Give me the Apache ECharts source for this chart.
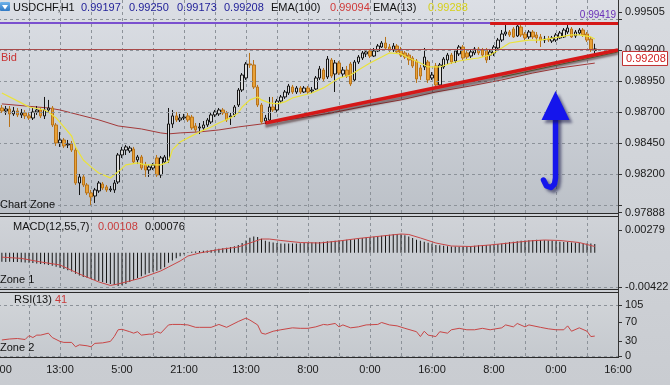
<!DOCTYPE html>
<html><head><meta charset="utf-8">
<script src="https://cdn.jsdelivr.net/npm/echarts@6/dist/echarts.min.js"></script>
<style>html,body{margin:0;padding:0;background:#cdd0d4}#c{width:670px;height:385px}</style>
</head><body><div id="c"></div><script>
// ---------- data ----------
const tickLabels = ['21:00','13:00','5:00','21:00','13:00','8:00','0:00','16:00','8:00','0:00','16:00'];
// hourly candles: [open, close, low, high]
const ohlc = [
[0.98732,0.98708,0.98692,0.98756],[0.98708,0.98724,0.98676,0.98748],[0.98724,0.98684,0.98579,0.98748],[0.98684,0.98708,0.98668,0.98740],
[0.98708,0.98676,0.98659,0.98732],[0.98676,0.98692,0.98651,0.98724],[0.98692,0.98668,0.98643,0.98716],[0.98668,0.98651,0.98635,0.98700],
[0.98651,0.98700,0.98635,0.98732],[0.98700,0.98716,0.98676,0.98748],[0.98716,0.98668,0.98651,0.98740],[0.98668,0.98716,0.98643,0.98821],
[0.98716,0.98732,0.98692,0.98797],[0.98732,0.98595,0.98579,0.98748],[0.98595,0.98450,0.98426,0.98611],[0.98450,0.98474,0.98418,0.98538],
[0.98474,0.98426,0.98409,0.98490],[0.98434,0.98442,0.98409,0.98474],[0.98442,0.98393,0.98377,0.98466],[0.98393,0.98127,0.98111,0.98418],
[0.98127,0.98176,0.98030,0.98200],[0.98176,0.98111,0.98095,0.98192],[0.98111,0.98047,0.98030,0.98127],[0.98047,0.98014,0.97950,0.98071],
[0.98022,0.98071,0.97966,0.98087],[0.98063,0.98127,0.98047,0.98143],[0.98119,0.98087,0.98071,0.98135],[0.98095,0.98071,0.98055,0.98111],
[0.98071,0.98079,0.98055,0.98103],[0.98071,0.98127,0.98047,0.98151],[0.98135,0.98353,0.98119,0.98369],[0.98353,0.98393,0.98329,0.98418],
[0.98393,0.98418,0.98353,0.98434],[0.98385,0.98409,0.98369,0.98426],[0.98401,0.98297,0.98280,0.98418],[0.98313,0.98337,0.98280,0.98353],
[0.98337,0.98248,0.98232,0.98353],[0.98272,0.98232,0.98176,0.98297],[0.98232,0.98256,0.98176,0.98272],[0.98248,0.98272,0.98232,0.98288],
[0.98329,0.98192,0.98176,0.98353],[0.98192,0.98329,0.98168,0.98345],[0.98297,0.98337,0.98280,0.98353],[0.98313,0.98603,0.98288,0.98732],
[0.98603,0.98668,0.98571,0.98716],[0.98668,0.98635,0.98619,0.98700],[0.98635,0.98651,0.98619,0.98684],[0.98651,0.98659,0.98635,0.98684],
[0.98668,0.98635,0.98619,0.98692],[0.98659,0.98571,0.98555,0.98676],[0.98587,0.98555,0.98538,0.98611],[0.98571,0.98579,0.98522,0.98611],
[0.98571,0.98595,0.98555,0.98627],[0.98595,0.98635,0.98579,0.98651],[0.98619,0.98676,0.98603,0.98692],[0.98676,0.98700,0.98659,0.98716],
[0.98684,0.98716,0.98668,0.98732],[0.98716,0.98692,0.98676,0.98732],[0.98692,0.98635,0.98619,0.98708],[0.98659,0.98668,0.98595,0.98692],
[0.98676,0.98740,0.98659,0.98756],[0.98756,0.98877,0.98740,0.98893],[0.98877,0.98998,0.98861,0.99014],[0.98974,0.99087,0.98958,0.99103],
[0.99087,0.99079,0.99055,0.99176],[0.99079,0.98901,0.98885,0.99119],[0.98901,0.98756,0.98740,0.98918],[0.98756,0.98619,0.98603,0.98772],
[0.98627,0.98651,0.98603,0.98676],[0.98635,0.98740,0.98611,0.98821],[0.98740,0.98716,0.98700,0.98821],[0.98716,0.98788,0.98700,0.98805],
[0.98788,0.98821,0.98772,0.98837],[0.98821,0.98861,0.98805,0.98877],[0.98853,0.98909,0.98837,0.98926],[0.98901,0.98861,0.98845,0.98918],
[0.98861,0.98893,0.98845,0.98909],[0.98893,0.98861,0.98845,0.98909],[0.98861,0.98893,0.98853,0.98909],[0.98893,0.98861,0.98845,0.98909],
[0.98869,0.98877,0.98853,0.98901],[0.98885,0.98974,0.98877,0.98990],[0.98974,0.99047,0.98958,0.99071],[0.99038,0.98966,0.98942,0.99055],
[0.98982,0.99127,0.98966,0.99151],[0.99119,0.98990,0.98974,0.99135],[0.99006,0.99095,0.98861,0.99119],[0.99095,0.99014,0.98998,0.99111],
[0.99006,0.99038,0.98982,0.99063],[0.99038,0.98990,0.98974,0.99071],[0.99087,0.98926,0.98909,0.99103],[0.98958,0.99103,0.98942,0.99119],
[0.99103,0.99143,0.99087,0.99159],[0.99135,0.99176,0.99119,0.99192],[0.99168,0.99184,0.99143,0.99200],[0.99192,0.99151,0.99135,0.99208],
[0.99151,0.99192,0.99143,0.99216],[0.99192,0.99232,0.99184,0.99248],[0.99224,0.99256,0.99216,0.99272],[0.99256,0.99216,0.99200,0.99305],
[0.99224,0.99200,0.99184,0.99248],[0.99200,0.99232,0.99184,0.99256],[0.99232,0.99184,0.99168,0.99248],[0.99200,0.99159,0.99143,0.99224],
[0.99176,0.99143,0.99127,0.99192],[0.99159,0.99119,0.99079,0.99176],[0.99135,0.99071,0.99055,0.99151],[0.99111,0.98966,0.98934,0.99127],
[0.99055,0.98990,0.98958,0.99079],[0.99063,0.99143,0.99038,0.99216],[0.99103,0.98958,0.98934,0.99119],[0.98974,0.98998,0.98958,0.99022],
[0.99071,0.98918,0.98893,0.99095],[0.98918,0.99079,0.98901,0.99095],[0.99063,0.99127,0.99047,0.99143],[0.99119,0.99159,0.99087,0.99176],
[0.99159,0.99103,0.99087,0.99176],[0.99111,0.99192,0.99095,0.99208],[0.99168,0.99224,0.99151,0.99240],[0.99224,0.99135,0.99119,0.99240],
[0.99176,0.99143,0.99127,0.99192],[0.99151,0.99184,0.99135,0.99200],[0.99176,0.99208,0.99159,0.99224],[0.99208,0.99176,0.99159,0.99224],
[0.99200,0.99159,0.99143,0.99216],[0.99200,0.99119,0.99095,0.99216],[0.99159,0.99184,0.99119,0.99208],[0.99176,0.99224,0.99151,0.99240],
[0.99216,0.99280,0.99200,0.99297],[0.99280,0.99329,0.99264,0.99361],[0.99329,0.99345,0.99313,0.99401],[0.99345,0.99321,0.99305,0.99361],
[0.99369,0.99305,0.99297,0.99385],[0.99313,0.99393,0.99305,0.99419],[0.99385,0.99321,0.99305,0.99401],[0.99329,0.99297,0.99280,0.99345],
[0.99305,0.99345,0.99288,0.99361],[0.99345,0.99305,0.99288,0.99361],[0.99321,0.99297,0.99256,0.99345],[0.99305,0.99280,0.99224,0.99329],
[0.99280,0.99288,0.99256,0.99313],[0.99288,0.99280,0.99264,0.99313],[0.99272,0.99297,0.99256,0.99313],[0.99280,0.99321,0.99264,0.99337],
[0.99297,0.99337,0.99288,0.99353],[0.99305,0.99361,0.99297,0.99377],[0.99345,0.99377,0.99329,0.99409],[0.99369,0.99305,0.99297,0.99385],
[0.99313,0.99345,0.99297,0.99361],[0.99337,0.99361,0.99321,0.99377],[0.99361,0.99321,0.99305,0.99377],[0.99329,0.99280,0.99264,0.99345],
[0.99288,0.99200,0.99184,0.99305],[0.99197,0.99208,0.99173,0.99250]
];
// EMA lines read at points: [candle index, value]
const ema13 = [[0,0.98853],[5,0.98773],[7,0.98740],[11,0.98716],[12,0.98700],[14,0.98652],[16,0.98579],[18,0.98506],[19,0.98418],[21,0.98313],[23,0.98257],[25,0.98208],[28,0.98168],[30,0.98217],[32,0.98273],[35,0.98289],[37,0.98273],[41,0.98273],[43,0.98297],[44,0.98394],[46,0.98458],[49,0.98507],[51,0.98539],[54,0.98579],[56,0.98611],[59,0.98652],[61,0.98692],[62,0.98740],[64,0.98797],[66,0.98821],[67,0.98797],[69,0.98773],[71,0.98765],[73,0.98781],[75,0.98813],[78,0.98837],[80,0.98853],[83,0.98894],[85,0.98934],[87,0.98974],[90,0.98998],[92,0.99039],[95,0.99095],[98,0.99143],[100,0.99176],[103,0.99168],[105,0.99135],[108,0.99095],[110,0.99063],[113,0.99063],[116,0.99095],[118,0.99111],[121,0.99127],[123,0.99135],[126,0.99160],[129,0.99216],[131,0.99256],[134,0.99272],[136,0.99280],[139,0.99280],[141,0.99289],[144,0.99305],[147,0.99321],[149,0.99321],[152,0.99305],[153,0.99288]];
const ema100 = [[0,0.98765],[12,0.98732],[15,0.98716],[20,0.98676],[25,0.98636],[30,0.98587],[36,0.98563],[41,0.98531],[43,0.98523],[46,0.98531],[51,0.98539],[56,0.98555],[61,0.98579],[67,0.98603],[68,0.98611],[77,0.98652],[85,0.98692],[94,0.98748],[103,0.98797],[112,0.98861],[121,0.98910],[129,0.98958],[137,0.99014],[144,0.99055],[153,0.99094]];
// MACD histogram, one bar per candle
const macdHist = [
-0.00112,-0.00115,-0.00113,-0.00116,-0.00114,-0.00117,-0.00120,-0.00124,-0.00128,-0.00132,-0.00138,-0.00143,-0.00150,-0.00160,-0.00172,-0.00186,
-0.00200,-0.00215,-0.00232,-0.00260,-0.00282,-0.00298,-0.00312,-0.00325,-0.00336,-0.00348,-0.00360,-0.00372,-0.00384,-0.00398,-0.00410,-0.00400,
-0.00385,-0.00362,-0.00335,-0.00310,-0.00290,-0.00268,-0.00250,-0.00236,-0.00222,-0.00205,-0.00178,-0.00125,-0.00095,-0.00068,-0.00045,-0.00020,
0.00004,0.00012,0.00016,0.00020,0.00024,0.00028,0.00034,0.00040,0.00048,0.00056,0.00062,0.00070,0.00080,0.00095,0.00118,0.00150,
0.00185,0.00198,0.00192,0.00172,0.00148,0.00135,0.00124,0.00118,0.00114,0.00112,0.00113,0.00112,0.00114,0.00116,0.00118,0.00122,
0.00124,0.00128,0.00132,0.00134,0.00140,0.00142,0.00148,0.00152,0.00156,0.00158,0.00160,0.00166,0.00174,0.00180,0.00186,0.00192,
0.00196,0.00202,0.00208,0.00214,0.00222,0.00226,0.00230,0.00226,0.00214,0.00198,0.00180,0.00160,0.00146,0.00134,0.00122,0.00110,
0.00096,0.00090,0.00086,0.00080,0.00076,0.00076,0.00074,0.00076,0.00078,0.00082,0.00086,0.00090,0.00092,0.00094,0.00096,0.00100,
0.00106,0.00114,0.00122,0.00130,0.00136,0.00142,0.00146,0.00150,0.00154,0.00156,0.00158,0.00156,0.00152,0.00150,0.00146,0.00140,
0.00136,0.00132,0.00130,0.00126,0.00122,0.00118,0.00116,0.00114,0.00112,0.00108
];
const macdSignal = [[0,-0.00055],[5,-0.00070],[10,-0.00114],[15,-0.00151],[20,-0.00262],[25,-0.00360],[28,-0.00403],[30,-0.00385],[36,-0.00311],[41,-0.00225],[43,-0.00176],[46,-0.00102],[48,-0.00041],[51,-0.00004],[56,0.00039],[61,0.00070],[64,0.00119],[67,0.00168],[69,0.00168],[72,0.00150],[77,0.00125],[82,0.00119],[87,0.00144],[92,0.00175],[98,0.00205],[103,0.00230],[105,0.00224],[108,0.00181],[112,0.00119],[116,0.00082],[121,0.00076],[126,0.00095],[131,0.00119],[136,0.00144],[140,0.00156],[144,0.00150],[149,0.00125],[153,0.00076]];
const rsi = [[0,33],[2,35],[4,36],[6,34],[7,42],[8,38],[9,43],[10,43],[12,47],[13,38],[15,30],[16,28],[18,28],[19,19],[20,23],[22,21],[23,19],[24,26],[26,27],[28,30],[29,40],[30,54],[31,55],[33,50],[34,47],[35,50],[36,43],[38,45],[39,45],[40,50],[41,47],[43,64],[44,65],[46,65],[48,64],[50,59],[51,59],[54,59],[56,65],[58,59],[61,71],[63,78],[64,74],[66,64],[67,47],[68,45],[70,51],[72,54],[75,58],[77,57],[79,57],[81,60],[83,65],[84,64],[86,67],[87,60],[88,64],[90,58],[92,60],[94,64],[97,65],[98,69],[100,64],[102,62],[104,57],[107,50],[108,40],[109,51],[110,43],[112,40],[113,50],[115,47],[116,54],[118,57],[120,54],[122,54],[124,57],[126,54],[129,58],[130,64],[132,60],[133,67],[135,60],[136,64],[139,59],[141,56],[143,54],[145,54],[146,62],[147,51],[149,58],[151,51],[152,40],[153,41]];
// drawn annotation lines: [candle index, price]
const trendLine = [[68,0.98611],[159,0.99200]];
const greenLine = [[129,0.98982],[159,0.99184]];
const resistLine = [[126,0.99419],[159,0.99419]];
const highLevel = 0.99419;
const bidLevel = 0.99208;
const priceGrid = [0.9795,0.9820,0.9845,0.9870,0.9895,0.9920,0.9945];
const priceLabels = [0.97888,0.98200,0.98450,0.98700,0.98950,0.99200,0.99505];
const macdLabels = [-0.00422,0.00279];
const rsiLabels = [0,30,70,105];

// ---------- chart ----------
const N = 161, OFF = 1;           // categories; candle k sits at category k+1
const categories = Array.from({length:N},(_,i)=>String(i));
const FONT = "'Liberation Sans', Arial, sans-serif";
const at = arr => arr.map(p => [p[0]+OFF, p[1]]);
const chart = echarts.init(document.getElementById('c'), null, {width:670, height:385});
const gridBase = {left:-2, right:52, containLabel:false, outerBoundsMode:'none'};
const grids = [
  Object.assign({top:0, height:213}, gridBase),
  Object.assign({top:217, height:73}, gridBase),
  Object.assign({top:305, height:52}, gridBase)
];
const dash = {color:'#8c9299', type:[3,3], width:1};
function xAx(i, labels){
  return {type:'category', gridIndex:i, data:categories, boundaryGap:false,
    axisLine:{show:false}, axisTick:{show:false},
    axisLabel: labels ? {show:true, interval:(idx)=>idx%16===0, formatter:(v)=>{const k=Number(v);return k%16===0?tickLabels[k/16]:'';}, color:'#1a1a1a', fontSize:11, fontFamily:FONT, margin:7, hideOverlap:false} : {show:false},
    splitLine:{show:true, interval:(idx)=>idx%8===0, lineStyle:dash}};
}
function yAx(i, min, max, ticks, labels, fmt){
  return {type:'value', gridIndex:i, position:'right', min, max, scale:true,
    axisLine:{show:true, lineStyle:{color:'#333'}},
    axisTick:{show:true, length:4, customValues:ticks, lineStyle:{color:'#333'}},
    axisLabel:{customValues:labels, formatter:fmt, color:'#1a1a1a', fontSize:11, fontFamily:FONT, margin:7},
    splitLine:{show:false}};
}
const hline = (v, style) => ({yAxis:v, lineStyle:style, label:{show:false}});
const seg = (pts, style) => [{coord:[pts[0][0]+OFF, pts[0][1]], lineStyle:style}, {coord:[pts[1][0]+OFF, pts[1][1]]}];

const last = ohlc[ohlc.length-1];
const option = {
  animation:false,
  backgroundColor:'#cdd0d4',
  textStyle:{fontFamily:FONT},
  grid: grids,
  xAxis:[xAx(0,false), xAx(1,false), xAx(2,true)],
  yAxis:[
    yAx(0, 0.97885, 0.99603, priceGrid.concat([0.97888,0.99505]), priceLabels, v=>v.toFixed(5)),
    yAx(1, -0.00459, 0.00439, macdLabels, macdLabels, v=>v.toFixed(5)),
    yAx(2, -2.06, 105, rsiLabels, rsiLabels, v=>String(v))
  ],
  series:[
    {type:'line', name:'EMA100', xAxisIndex:0, yAxisIndex:0, data:at(ema100), showSymbol:false, silent:true, z:1,
     lineStyle:{color:'#a33a3a', width:1},
     markLine:{silent:true, precision:6, symbol:['none','none'], animation:false,
       data: priceGrid.map(v=>hline(v, dash)).concat([
         hline(bidLevel, {color:'#a84a4a', width:1, type:'solid'})
       ])}},
    {type:'candlestick', xAxisIndex:0, yAxisIndex:0, z:2, silent:true,
     dimensions:['idx','open','close','lowest','highest'],
     encode:{x:'idx', y:['open','close','lowest','highest']},
     data: ohlc.map((d,k)=>[k+OFF, d[0], d[1], d[2], d[3]]),
     barWidth:3,
     itemStyle:{color:'#dedede', color0:'#e9a238', borderColor:'#151515', borderColor0:'#b8731a', borderWidth:1}},
    {type:'line', name:'EMA13', xAxisIndex:0, yAxisIndex:0, data:at(ema13), showSymbol:false, silent:true, z:3,
     lineStyle:{color:'#ebe33a', width:1.2},
     markLine:{silent:true, precision:6, symbol:['none','none'], animation:false,
       label:{show:false},
       data:[
         hline(highLevel, {color:'#5a22c8', width:1.6, type:'solid'}),
         seg(greenLine, {color:'#5f8a3a', width:1, type:'solid'}),
         seg(trendLine, {color:'#d51818', width:3.5, type:'solid', shadowColor:'rgba(60,30,30,0.55)', shadowBlur:2, shadowOffsetY:3}),
         seg(resistLine, {color:'#d51818', width:3, type:'solid'})
       ]}},
    {type:'bar', xAxisIndex:1, yAxisIndex:1, data: macdHist.map((v,k)=>[k+OFF, v]), barWidth:1, silent:true,
     itemStyle:{color:'#151515'},
     markLine:{silent:true, precision:6, symbol:['none','none'], label:{show:false}, data:[hline(macdLabels[0], dash)]}},
    {type:'line', xAxisIndex:1, yAxisIndex:1, data:at(macdSignal), showSymbol:false, silent:true, z:3,
     lineStyle:{color:'#c84646', width:1}},
    {type:'line', xAxisIndex:2, yAxisIndex:2, data:at(rsi), showSymbol:false, silent:true,
     lineStyle:{color:'#c84646', width:1},
     markLine:{silent:true, precision:6, symbol:['none','none'], label:{show:false}, data:[hline(0, dash), hline(105, dash)]}}
  ]
};
chart.setOption(option);

// ---------- decorations ----------
const LG = (a,b)=>new echarts.graphic.LinearGradient(0,0,0,1,[{offset:0,color:a},{offset:1,color:b}]);
const txt = (x,y,text,color,size,align) => ({type:'text', z:100, silent:true, style:{x, y, text, fill:color, font:(size||11)+'px '+FONT, align:align||'left', verticalAlign:'middle', textAlign:align||'left', textVerticalAlign:'middle'}});
const line = (x1,y1,x2,y2,c) => ({type:'line', z:50, silent:true, shape:{x1,y1,x2,y2}, style:{stroke:c||'#2a2a2a', lineWidth:1}});
const yHigh = chart.convertToPixel({yAxisIndex:0}, highLevel);
const yBid = chart.convertToPixel({yAxisIndex:0}, bidLevel);
const blue = '#1515ec';
const shadow = {shadowBlur:3, shadowColor:'rgba(20,20,70,0.55)', shadowOffsetX:3, shadowOffsetY:3};
chart.setOption({graphic:[
  {type:'rect', z:-100, silent:true, shape:{x:0,y:0,width:670,height:385}, style:{fill:LG('#d8dbe0','#c9ccd1')}},
  {type:'rect', z:-90, silent:true, shape:{x:0,y:0,width:619,height:213}, style:{fill:LG('#dcdfe5','#bcc1c8')}},
  {type:'rect', z:-90, silent:true, shape:{x:0,y:217,width:619,height:73}, style:{fill:LG('#d0d3d8','#c2c6cc')}},
  {type:'rect', z:-90, silent:true, shape:{x:0,y:292,width:619,height:65}, style:{fill:LG('#d3d6da','#c5c9ce')}},
  line(0,213.5,619,213.5), line(0,216.5,619,216.5), line(0,289.5,619,289.5), line(0,292.5,619,292.5), line(0,357.5,619,357.5),
  line(618.5,0,618.5,358,'#333'),
  // header
  {type:'rect', z:100, silent:true, shape:{x:0,y:2,width:10,height:9,r:1}, style:{fill:LG('#6fb3ea','#2f78c4')}},
  {type:'polygon', z:101, silent:true, shape:{points:[[2,5],[8,5],[5,9.5]]}, style:{fill:'#fff'}},
  txt(13,7.5,'USDCHF,H1','#111'),
  txt(81,7.5,last[0].toFixed(5),'#23239a'), txt(129,7.5,last[3].toFixed(5),'#23239a'),
  txt(177,7.5,last[2].toFixed(5),'#23239a'), txt(224,7.5,last[1].toFixed(5),'#23239a'),
  txt(271,7.5,'EMA(100)','#111'), txt(330,7.5,ema100[ema100.length-1][1].toFixed(5),'#d03a3a'),
  txt(373,7.5,'EMA(13)','#111'), txt(428,7.5,ema13[ema13.length-1][1].toFixed(5),'#d6d01c'),
  txt(616,yHigh-8,highLevel.toFixed(5),'#6a2fb8',10,'right'),
  txt(1,yBid+9,'Bid','#c83232'),
  // bid price box
  {type:'rect', z:100, silent:true, shape:{x:622.5,y:yBid+2.5,width:45,height:14}, style:{fill:'#ffffff', stroke:'#c03030', lineWidth:1}},
  txt(626,yBid+9.5,bidLevel.toFixed(5),'#d02020'),
  txt(0,205,'Chart Zone','#111'),
  txt(13,227,'MACD(12,55,7)','#111'),
  txt(98,227,macdHist[macdHist.length-1].toFixed(5),'#c83c3c'),
  txt(145,227,macdSignal[macdSignal.length-1][1].toFixed(5),'#111'),
  txt(0,280,'Zone 1','#111'),
  txt(14,300,'RSI(13)','#111'),
  txt(55,300,String(rsi[rsi.length-1][1]),'#c83c3c'),
  txt(0,348,'Zone 2','#111'),
  // blue arrow
  {type:'polygon', z:60, silent:true, shape:{points:[[555.5,91],[541.5,120],[569.5,120]]}, style:Object.assign({fill:blue}, shadow)},
  {type:'polyline', z:59, silent:true, shape:{points:[[555.5,117],[555.5,178],[554.5,184],[551,187.5],[546.5,186],[543.5,180]]}, style:Object.assign({stroke:blue, lineWidth:5.5, fill:null, lineCap:'round', lineJoin:'round'}, shadow)}
]});
</script></body></html>
